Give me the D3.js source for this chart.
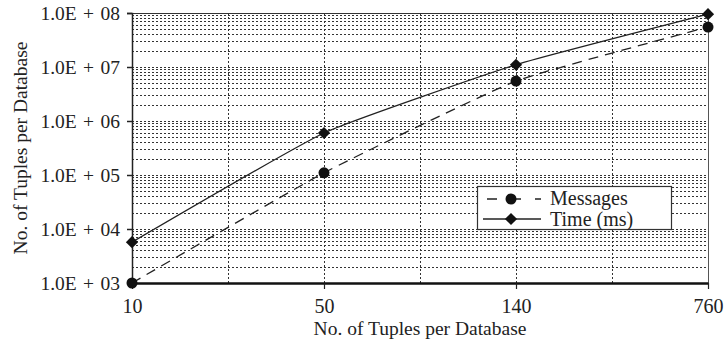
<!DOCTYPE html>
<html>
<head>
<meta charset="utf-8">
<script src="https://cdn.jsdelivr.net/npm/d3@7"></script>
<style>
  body { margin: 0; background: #fff; }
  text { font-family: "Liberation Serif", "Times New Roman", serif; fill: #222; }
</style>
</head>
<body>
<div id="chart"></div>
<script>
// data
const categories = ["10", "50", "140", "760"]
const messages = [1000, 110000, 5500000, 55000000]
const timeMs = [5700, 600000, 11000000, 95000000]
const yTickValues = [1e3, 1e4, 1e5, 1e6, 1e7, 1e8]
const yTickLabels = ["1.0E + 03", "1.0E + 04", "1.0E + 05", "1.0E + 06", "1.0E + 07", "1.0E + 08"]

const width = 728
const height = 344
const margin = { left: 132, right: 20, top: 13, bottom: 61 }

const svg = d3.select('#chart')
    .append('svg')
    .attr('width', width)
    .attr('height', height)

// scales
const xScale = d3.scalePoint()
    .domain(categories)
    .range([margin.left, width - margin.right])

const yScale = d3.scaleLog()
    .domain([1e3, 1e8])
    .range([height - margin.bottom, margin.top])

const step = xScale.step()

// horizontal grid (minor log ticks)
const minorTicks = []
for (let e = 3; e < 8; e++) {
    for (let m = 2; m <= 10; m++) minorTicks.push(m * Math.pow(10, e))
}
svg.append('g')
    .selectAll('line')
    .data(minorTicks)
    .enter()
    .append('line')
    .attr('x1', margin.left)
    .attr('x2', width - margin.right)
    .attr('y1', d => Math.round(yScale(d)) + 0.5)
    .attr('y2', d => Math.round(yScale(d)) + 0.5)
    .attr('stroke', '#333')
    .attr('stroke-width', 1)
    .attr('stroke-dasharray', d => d === 1e8 ? null : '2,2')

// vertical grid at half steps
const vGrid = []
for (let i = 0; i < categories.length - 1; i++) {
    vGrid.push(xScale(categories[i]) + step / 2)
    if (i > 0) vGrid.push(xScale(categories[i]))
}
svg.append('g')
    .selectAll('line')
    .data(vGrid)
    .enter()
    .append('line')
    .attr('x1', d => Math.round(d) + 0.5)
    .attr('x2', d => Math.round(d) + 0.5)
    .attr('y1', margin.top)
    .attr('y2', height - margin.bottom)
    .attr('stroke', '#333')
    .attr('stroke-dasharray', '2,2')

// right border
svg.append('line')
    .attr('x1', width - margin.right + 0.5)
    .attr('x2', width - margin.right + 0.5)
    .attr('y1', margin.top)
    .attr('y2', height - margin.bottom)
    .attr('stroke', '#555')

// axes
const yAxis = d3.axisLeft(yScale)
    .tickValues(yTickValues)
    .tickSize(5)
    .tickFormat((d, i) => yTickLabels[i])

const xAxis = d3.axisBottom(xScale)
    .tickSize(6)
    .tickSizeOuter(0)

const gy = svg.append('g')
    .attr('transform', 'translate(' + margin.left + ',0)')
    .call(yAxis)
gy.select('.domain').attr('stroke', '#222').attr('stroke-width', 1.5)
gy.selectAll('.tick line').attr('stroke', '#222').attr('stroke-width', 1.5)
gy.selectAll('.tick text')
    .attr('x', -12)
    .style('font-size', '19.5px')
    .style('word-spacing', '1.5px')
    .style('font-family', '"Liberation Serif", serif')
    .attr('fill', '#222')

const gx = svg.append('g')
    .attr('transform', 'translate(0,' + (height - margin.bottom) + ')')
    .call(xAxis)
gx.select('.domain').attr('stroke', '#111').attr('stroke-width', 2.5)
gx.selectAll('.tick line').attr('stroke', '#222').attr('stroke-width', 1.2)
gx.selectAll('.tick text')
    .attr('y', 16)
    .style('font-size', '20px')
    .style('font-family', '"Liberation Serif", serif')
    .attr('fill', '#222')

// axis titles
svg.append('text')
    .attr('x', (margin.left + width - margin.right) / 2)
    .attr('y', 335)
    .attr('text-anchor', 'middle')
    .style('font-size', '19.5px')
    .text('No. of Tuples per Database')

svg.append('text')
    .attr('transform', 'translate(27,' + ((margin.top + height - margin.bottom) / 2) + ') rotate(-90)')
    .attr('text-anchor', 'middle')
    .style('font-size', '19.5px')
    .text('No. of Tuples per Database')

// lines (lightly smoothed)
const line = d3.line()
    .x((d, i) => xScale(categories[i]))
    .y(d => yScale(d))
    .curve(d3.curveCardinal.tension(0.6))

svg.append('path')
    .datum(messages)
    .attr('d', line)
    .attr('fill', 'none')
    .attr('stroke', '#222')
    .attr('stroke-width', 1.3)
    .attr('stroke-dasharray', '10,7')

svg.append('path')
    .datum(timeMs)
    .attr('d', line)
    .attr('fill', 'none')
    .attr('stroke', '#222')
    .attr('stroke-width', 1.3)

const circleSym = d3.symbol().type(d3.symbolCircle).size(95)
const diamondSym = d3.symbol().type(d3.symbolDiamond2).size(95)

svg.append('g')
    .selectAll('path')
    .data(messages)
    .enter()
    .append('path')
    .attr('d', circleSym)
    .attr('transform', (d, i) => 'translate(' + xScale(categories[i]) + ',' + yScale(d) + ')')
    .attr('fill', '#111')

svg.append('g')
    .selectAll('path')
    .data(timeMs)
    .enter()
    .append('path')
    .attr('d', diamondSym)
    .attr('transform', (d, i) => 'translate(' + xScale(categories[i]) + ',' + yScale(d) + ')')
    .attr('fill', '#111')

// legend
const legend = svg.append('g').attr('transform', 'translate(477,186)')
legend.append('rect')
    .attr('x', 0.5)
    .attr('y', 0.5)
    .attr('width', 194)
    .attr('height', 43)
    .attr('fill', '#fff')
    .attr('stroke', '#333')
    .attr('stroke-width', 1.2)

legend.append('line')
    .attr('x1', 6).attr('x2', 64).attr('y1', 13).attr('y2', 13)
    .attr('stroke', '#222').attr('stroke-width', 1.3)
    .attr('stroke-dasharray', '10,14')
    .attr('stroke-dashoffset', -4)
legend.append('path')
    .attr('d', circleSym)
    .attr('transform', 'translate(34,13)')
    .attr('fill', '#111')
legend.append('text')
    .attr('x', 73).attr('y', 19)
    .style('font-size', '20px')
    .text('Messages')

legend.append('line')
    .attr('x1', 6).attr('x2', 64).attr('y1', 33).attr('y2', 33)
    .attr('stroke', '#222').attr('stroke-width', 1.3)
legend.append('path')
    .attr('d', diamondSym)
    .attr('transform', 'translate(34,33)')
    .attr('fill', '#111')
legend.append('text')
    .attr('x', 73).attr('y', 40)
    .style('font-size', '20px')
    .text('Time (ms)')
</script>
</body>
</html>
